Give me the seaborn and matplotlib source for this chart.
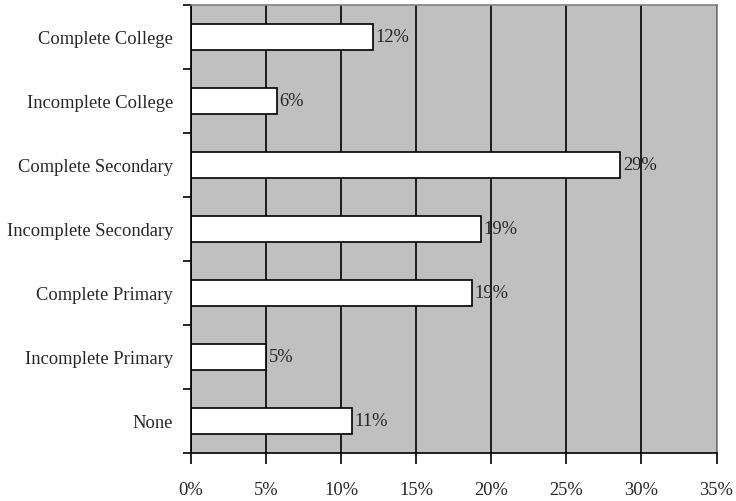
import matplotlib
matplotlib.use("Agg")
import matplotlib.pyplot as plt
import seaborn as sns
import pandas as pd
from matplotlib.ticker import FuncFormatter, FixedLocator

# Education level shares (fractions of respondents)
levels = ["Complete College", "Incomplete College", "Complete Secondary",
          "Incomplete Secondary", "Complete Primary", "Incomplete Primary", "None"]
shares = [0.121, 0.057, 0.286, 0.193, 0.187, 0.050, 0.107]
x_ticks = [0.0, 0.05, 0.10, 0.15, 0.20, 0.25, 0.30, 0.35]

df = pd.DataFrame({"level": levels, "share": shares})

sns.set_theme(style="white")
plt.rcParams["font.family"] = ["Liberation Serif", "DejaVu Serif"]

fig = plt.figure(figsize=(7.36, 5.01), dpi=100)
left, right, bottom, top = 191 / 736, 716.5 / 736, 1 - 453 / 501, 1 - 5 / 501
ax = fig.add_axes([left, bottom, right - left, top - bottom])

sns.barplot(data=df, x="share", y="level", order=levels, orient="h",
            color="white", edgecolor="black", linewidth=1.2, width=0.4,
            saturation=1, ax=ax)

ax.set_facecolor("#C0C0C0")
ax.set_axisbelow(True)
ax.set_xlim(0, 0.35)
ax.set_ylim(len(levels) - 0.5, -0.5)
ax.xaxis.set_major_locator(FixedLocator(x_ticks))
ax.xaxis.set_major_formatter(FuncFormatter(lambda v, p: f"{v*100:.0f}%"))
ax.grid(axis="x", color="black", linewidth=1.2)
ax.grid(axis="y", visible=False)

# category separators as tick marks on the y axis
ax.set_yticks(range(len(levels)))
ax.set_yticks([i - 0.5 for i in range(len(levels) + 1)], minor=True)
ax.tick_params(axis="y", which="major", length=0, pad=13, labelsize=13.3)
ax.tick_params(axis="y", which="minor", left=True, length=6, width=1.2, color="black",
               direction="out")
ax.tick_params(axis="x", which="major", bottom=True, length=8, width=1.2,
               color="black", direction="out", pad=13, labelsize=13.3)
ax.set_xlabel("")
ax.set_ylabel("")

for side in ["left", "bottom"]:
    ax.spines[side].set_color("black")
    ax.spines[side].set_linewidth(1.2)
for side in ["top", "right"]:
    ax.spines[side].set_color("#808080")
    ax.spines[side].set_linewidth(1.2)

for i, v in enumerate(shares):
    ax.text(v + 0.0018, i, f"{v*100:.0f}%", va="center", ha="left", fontsize=13.3)

fig.savefig("out.png", dpi=100)
